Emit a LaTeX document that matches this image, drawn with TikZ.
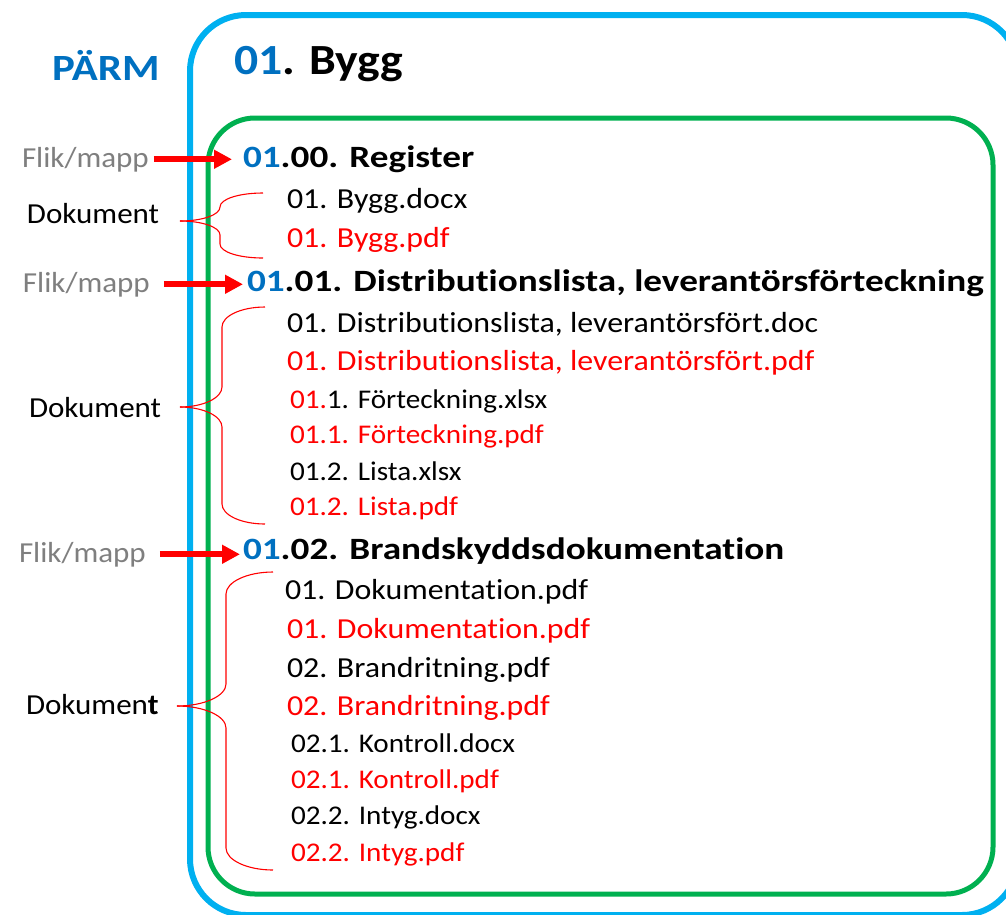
\documentclass[tikz,border=0pt]{standalone}
\usepackage{fontspec}
\setmainfont{Carlito}[Ligatures=NoCommon]
\newfontfamily\fLab{Carlito}[FakeStretch=1.07,Ligatures=NoCommon]
\newfontfamily\fDoc{Carlito}[FakeStretch=1.10,Ligatures=NoCommon]
\newfontfamily\fSm{Carlito}[FakeStretch=1.08,Ligatures=NoCommon]
\newfontfamily\fHd{Carlito}[FakeStretch=1.20,Ligatures=NoCommon]
\newfontfamily\fBig{Carlito}[FakeStretch=1.11,Ligatures=NoCommon]
\newfontfamily\fParm{Carlito}[FakeStretch=1.16,Ligatures=NoCommon]
\usetikzlibrary{arrows.meta,calc}
\definecolor{pblue}{HTML}{0070C0}
\definecolor{boxblue}{HTML}{00B0F0}
\definecolor{boxgreen}{HTML}{00B050}
\definecolor{fgray}{HTML}{7F7F7F}
\definecolor{fred}{HTML}{FF0000}
\begin{document}
\begin{tikzpicture}[x=1pt,y=-1pt,
  txt/.style={anchor=base west, inner sep=0pt, outer sep=0pt},
  lab/.style={txt, font=\fLab\fontsize{29}{29}\selectfont},
  flik/.style={lab, text=fgray},
  doc/.style={txt, font=\fDoc\fontsize{29}{29}\selectfont},
  sm/.style={txt, font=\fSm\fontsize{27}{27}\selectfont},
  hd/.style={txt, font=\fHd\bfseries\fontsize{31}{31}\selectfont},
  rd/.style={text=fred},
  arr/.style={draw=fred, line width=6pt, -{Triangle[length=18pt,width=18pt]}},
  bracestyle/.style={draw=fred, line width=1.1pt},
]
\useasboundingbox (0,0) rectangle (1006,914);
\clip (0,0) rectangle (1006,914);

% boxes
\draw[boxblue, line width=6pt, rounded corners=56pt] (190,15) rectangle (1018,915);
\draw[boxgreen, line width=5pt, rounded corners=47pt] (208,118) rectangle (993,894);

% titles
\node[txt, font=\fParm\bfseries\fontsize{37}{37}\selectfont, text=pblue] (parm) at (52,80) {PÄRM};
\node[txt, font=\fBig\bfseries\fontsize{43}{43}\selectfont] (bygg) at (234,74) {\textcolor{pblue}{01}. Bygg};

% section 1
\node[flik] (f1) at (22,167) {Flik/mapp};
\node[hd] (h1) at (243,167) {\textcolor{pblue}{01}.00. Register};
\node[doc] (d11) at (287,208) {01. Bygg.docx};
\node[doc, rd] (d12) at (287,247) {01. Bygg.pdf};
\node[lab] (k1) at (27,223) {Dokument};

% section 2
\node[flik] (f2) at (23,292) {Flik/mapp};
\node[hd] (h2) at (247,291) {\textcolor{pblue}{01}.01. Distributionslista, leverantörsförteckning};
\node[doc] (d21) at (287,332) {01. Distributionslista, leverantörsfört.doc};
\node[doc, rd] (d22) at (287,370) {01. Distributionslista, leverantörsfört.pdf};
\node[sm] (d23) at (290,408) {\textcolor{fred}{01.}1. Förteckning.xlsx};
\node[sm, rd] (d24) at (290,443) {01.1. Förteckning.pdf};
\node[sm] (d25) at (290,480) {01.2. Lista.xlsx};
\node[sm, rd] (d26) at (290,515) {01.2. Lista.pdf};
\node[lab] (k2) at (29,417) {Dokument};

% section 3
\node[flik] (f3) at (19,562) {Flik/mapp};
\node[hd] (h3) at (243,559) {\textcolor{pblue}{01}.02. Brandskyddsdokumentation};
\node[doc] (d31) at (285,599) {01. Dokumentation.pdf};
\node[doc, rd] (d32) at (287,638) {01. Dokumentation.pdf};
\node[doc] (d33) at (287,677) {02. Brandritning.pdf};
\node[doc, rd] (d34) at (287,715) {02. Brandritning.pdf};
\node[sm] (d35) at (291,752) {02.1. Kontroll.docx};
\node[sm, rd] (d36) at (291,788) {02.1. Kontroll.pdf};
\node[sm] (d37) at (291,824) {02.2. Intyg.docx};
\node[sm, rd] (d38) at (291,861) {02.2. Intyg.pdf};
\node[lab] (k3) at (26,714) {Dokumen\textbf{t}};

% arrows
\draw[arr] ($(f1.east)+(5,0)$) -- ($(h1.west |- f1.east)+(-11,0)$);
\draw[arr] ($(f2.east)+(14,0)$) -- ($(h2.west |- f2.east)+(-4,0)$);
\draw[arr] ($(f3.east)+(14,0)$) -- ($(h3.west |- f3.east)+(-3,0)$);

% braces
\coordinate (t1) at (180,221);
\coordinate (t2) at (180,407);
\coordinate (t3) at (177,706);
\draw[bracestyle] (t1) .. controls +(22,0) and +(0,8) .. (220,207) .. controls +(0,-8) and +(-24,0) .. (263,193);
\draw[bracestyle] (t1) .. controls +(22,0) and +(0,-8) .. (220,235) -- (220,244) .. controls +(0,8) and +(-24,0) .. (263,258);
\draw[bracestyle] (t2) .. controls +(23,0) and +(0,11) .. (222,387) -- (222,327) .. controls +(0,-11) and +(-24,0) .. (265,307);
\draw[bracestyle] (t2) .. controls +(23,0) and +(0,-11) .. (222,427) -- (222,504) .. controls +(0,11) and +(-24,0) .. (265,524);
\draw[bracestyle] (t3) .. controls +(27,0) and +(0,12) .. (226,684) -- (226,594) .. controls +(0,-12) and +(-26,0) .. (273,572);
\draw[bracestyle] (t3) .. controls +(27,0) and +(0,-12) .. (226,728) -- (226,848) .. controls +(0,12) and +(-26,0) .. (273,870);
\end{tikzpicture}
\end{document}
